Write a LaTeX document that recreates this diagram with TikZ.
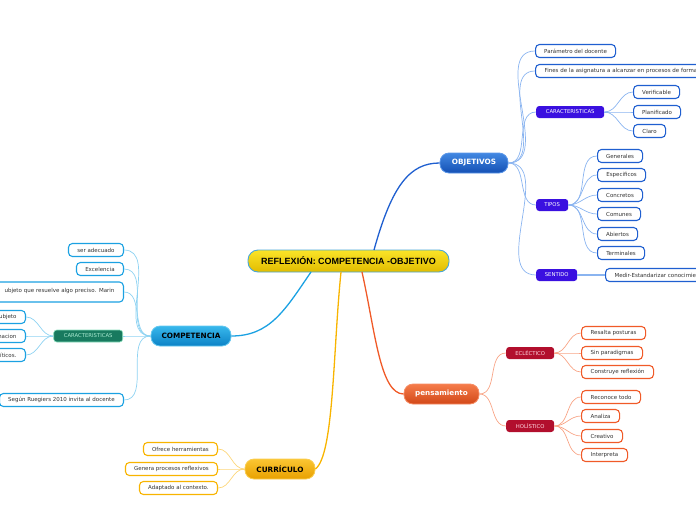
\documentclass[tikz,border=0pt]{standalone}
\usepackage{fontspec}
\newfontfamily\dv{DejaVu Sans}
\newfontfamily\lib{Liberation Sans}
\definecolor{cblue}{HTML}{1BA1E2}
\definecolor{oblue}{HTML}{1F5FD0}
\definecolor{porange}{HTML}{F05A28}
\definecolor{cyell}{HTML}{F8B400}
\definecolor{lcomp}{HTML}{8FD3F2}
\definecolor{lobj}{HTML}{8AB4F0}
\definecolor{lpen}{HTML}{F8A486}
\definecolor{lcur}{HTML}{FCD67A}
\definecolor{purp}{HTML}{3A10E0}
\definecolor{crim}{HTML}{B20F2D}
\definecolor{grn}{HTML}{187A5F}
\tikzset{
  leaf/.style={draw, rounded corners=4pt, fill=white, line width=1.1pt, minimum height=13pt, inner sep=0pt, font=\dv\fontsize{5.5}{6.5}\selectfont, text=black!80},
  subn/.style={rounded corners=3pt, minimum height=12pt, inner sep=0pt, text=white, font=\dv\fontsize{5.3}{6.5}\selectfont},
  mainn/.style={rounded corners=9pt, minimum height=20pt, inner sep=0pt, line width=0.8pt, font=\dv\bfseries\fontsize{7.3}{8.5}\selectfont},
  lk/.style={line width=0.7pt},
  mk/.style={line width=1.3pt},
}
\begin{document}
\begin{tikzpicture}[x=1pt,y=-1pt]
\useasboundingbox (0,0) rectangle (696,520);
% root
\node[rounded corners=10pt, minimum width=201pt, minimum height=22pt, inner sep=0pt, draw={rgb,255:red,73;green,166;blue,216}, line width=0.9pt, top color={rgb,255:red,250;green,228;blue,40}, bottom color={rgb,255:red,226;green,188;blue,0}, font=\lib\bfseries\fontsize{9}{11}\selectfont] (root) at (348.5,261) {REFLEXIÓN: COMPETENCIA -OBJETIVO};
% main branches
\node[mainn, minimum width=68pt, draw={rgb,255:red,90;green,150;blue,232}, top color={rgb,255:red,66;green,136;blue,226}, bottom color={rgb,255:red,20;green,80;blue,180}, text=white] (obj) at (474,163) {OBJETIVOS};
\node[mainn, minimum width=80pt, draw={rgb,255:red,100;green,200;blue,240}, top color={rgb,255:red,56;green,184;blue,236}, bottom color={rgb,255:red,12;green,130;blue,198}, text=black] (comp) at (191,336) {COMPETENCIA};
\node[mainn, minimum width=75pt, draw={rgb,255:red,246;green,140;blue,100}, top color={rgb,255:red,245;green,124;blue,74}, bottom color={rgb,255:red,210;green,72;blue,24}, text=white, font=\dv\bfseries\fontsize{7.2}{8.5}\selectfont] (pen) at (441.5,394) {pensamiento};
\node[mainn, minimum width=70pt, draw={rgb,255:red,250;green,205;blue,80}, top color={rgb,255:red,251;green,198;blue,50}, bottom color={rgb,255:red,232;green,160;blue,0}, text=black] (cur) at (280,469) {CURRÍCULO};
% main links
\draw[mk, oblue] (374,250) .. controls (392,185) and (410,163) .. (obj.west);
\draw[mk, cblue] (311,272) .. controls (285,310) and (270,336) .. (comp.east);
\draw[mk, cyell] (341,272) .. controls (333,350) and (334,455) .. (cur.east);
\draw[mk, porange] (362,272) .. controls (375,330) and (380,394) .. (pen.west);
% OBJETIVOS children
\node[leaf, draw=oblue, anchor=west, minimum width=80pt] (p1) at (535,51) {Parámetro del docente};
\node[leaf, draw=oblue, anchor=west, text width=250pt, align=left, inner xsep=9pt] (p2) at (535,71) {Fines de la asignatura a alcanzar en procesos de formación};
\node[subn, fill=purp, anchor=west, minimum width=68pt] (car) at (536,112) {CARACTERISTICAS};
\node[subn, fill=purp, anchor=west, minimum width=32pt] (tip) at (536,205) {TIPOS};
\node[subn, fill=purp, anchor=west, minimum width=41pt] (sen) at (536,275) {SENTIDO};
\node[leaf, draw=oblue, anchor=west, minimum width=46pt] (v1) at (633,92) {Verificable};
\node[leaf, draw=oblue, anchor=west, minimum width=47pt] (v2) at (633,112) {Planificado};
\node[leaf, draw=oblue, anchor=west, minimum width=32pt] (v3) at (633,131) {Claro};
\node[leaf, draw=oblue, anchor=west, minimum width=45pt] (t1) at (597,156) {Generales};
\node[leaf, draw=oblue, anchor=west, minimum width=48pt] (t2) at (597,175) {Especificos};
\node[leaf, draw=oblue, anchor=west, minimum width=45pt] (t3) at (597,195) {Concretos};
\node[leaf, draw=oblue, anchor=west, minimum width=43pt] (t4) at (597,214) {Comunes};
\node[leaf, draw=oblue, anchor=west, minimum width=40pt] (t5) at (597,234) {Abiertos};
\node[leaf, draw=oblue, anchor=west, minimum width=47pt] (t6) at (597,253) {Terminales};
\node[leaf, draw=oblue, anchor=west, text width=200pt, align=left, inner xsep=9pt] (s1) at (605,275) {Medir-Estandarizar conocimientos};
\foreach \c in {p1,p2,car,tip,sen}{\draw[lk, lobj] (obj.east) to[out=0,in=180] (\c.west);}
\foreach \c in {v1,v2,v3}{\draw[lk, lobj] (car.east) to[out=0,in=180] (\c.west);}
\foreach \c in {t1,t2,t3,t4,t5,t6}{\draw[lk, lobj] (tip.east) to[out=0,in=180] (\c.west);}
\draw[lk, lobj, line width=1.5pt] (sen.east) -- (s1.west);
% pensamiento children
\node[subn, fill=crim, anchor=west, minimum width=48pt, text={rgb,255:red,255;green,215;blue,225}] (ecl) at (506,353) {ECLÉCTICO};
\node[subn, fill=crim, anchor=west, minimum width=48pt, text={rgb,255:red,255;green,215;blue,225}] (hol) at (506,426) {HOLÍSTICO};
\node[leaf, draw=porange, anchor=west, minimum width=64pt] (e1) at (581,333) {Resalta posturas};
\node[leaf, draw=porange, anchor=west, minimum width=61pt] (e2) at (581,353) {Sin paradigmas};
\node[leaf, draw=porange, anchor=west, minimum width=72pt] (e3) at (581,372) {Construye reflexión};
\node[leaf, draw=porange, anchor=west, minimum width=59pt] (h1) at (581,397) {Reconoce todo};
\node[leaf, draw=porange, anchor=west, minimum width=38pt] (h2) at (581,416) {Analiza};
\node[leaf, draw=porange, anchor=west, minimum width=41pt] (h3) at (581,436) {Creativo};
\node[leaf, draw=porange, anchor=west, minimum width=46pt] (h4) at (581,455) {Interpreta};
\foreach \c in {ecl,hol}{\draw[lk, lpen] (pen.east) to[out=0,in=180] (\c.west);}
\foreach \c in {e1,e2,e3}{\draw[lk, lpen] (ecl.east) to[out=0,in=180] (\c.west);}
\foreach \c in {h1,h2,h3,h4}{\draw[lk, lpen] (hol.east) to[out=0,in=180] (\c.west);}
% curriculo children
\node[leaf, draw=cyell, anchor=east, minimum width=74pt] (c1) at (218,449) {Ofrece herramientas};
\node[leaf, draw=cyell, anchor=east, minimum width=92pt] (c2) at (218,469) {Genera procesos reflexivos};
\node[leaf, draw=cyell, anchor=east, minimum width=78pt] (c3) at (218,488) {Adaptado al contexto.};
\foreach \c in {c1,c2,c3}{\draw[lk, lcur] (cur.west) to[out=180,in=0] (\c.east);}
% competencia children
\node[leaf, draw=cblue, anchor=east, minimum width=55pt] (k1) at (124,250) {ser adecuado};
\node[leaf, draw=cblue, anchor=east, minimum width=47pt] (k2) at (124,269) {Excelencia};
\node[leaf, draw=cblue, anchor=east, text width=200pt, align=right, inner xsep=9pt, minimum height=20pt] (k3) at (124,292) {\raisebox{3.5pt}{ubjeto que resuelve algo preciso. Marin}};
\node[subn, fill=grn, draw={rgb,255:red,140;green,225;blue,190}, line width=0.6pt, anchor=east, minimum width=69pt, text={rgb,255:red,170;green,235;blue,210}] (kc) at (123,336) {CARACTERISTICAS};
\node[leaf, draw=cblue, anchor=east, minimum width=124pt] (k4) at (124,400) {Según Ruegiers 2010 invita al docente};
\node[leaf, draw=cblue, anchor=east, text width=100pt, align=right, inner xsep=9pt] (kc1) at (26,317) {ubjeto};
\node[leaf, draw=cblue, anchor=east, text width=100pt, align=right, inner xsep=9pt] (kc2) at (26,336) {macion};
\node[leaf, draw=cblue, anchor=east, text width=100pt, align=right, inner xsep=9pt] (kc3) at (26,355) {ríticos.};
\foreach \c in {k1,k2,k3,kc,k4}{\draw[lk, lcomp] (comp.west) to[out=180,in=0] (\c.east);}
\foreach \c in {kc1,kc2,kc3}{\draw[lk, lcomp] (kc.west) to[out=180,in=0] (\c.east);}
\end{tikzpicture}
\end{document}
